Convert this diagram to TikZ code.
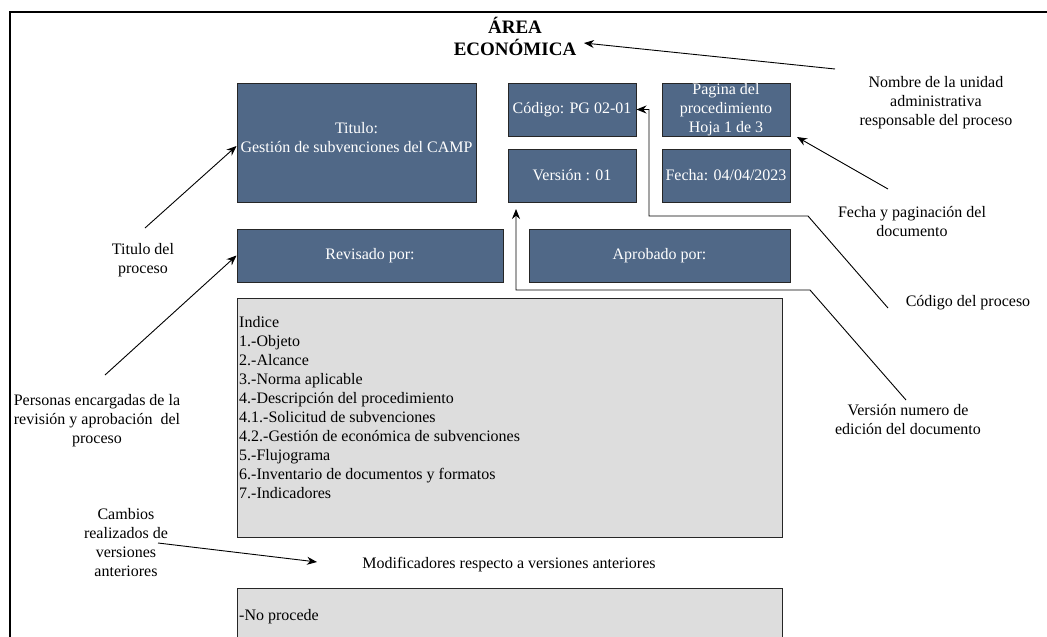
\documentclass[tikz,border=0pt]{standalone}
\usepackage{fontspec}
\setmainfont{Liberation Serif}
\usetikzlibrary{arrows.meta}
\definecolor{boxblue}{RGB}{80,104,135}
\definecolor{boxgrey}{RGB}{221,221,221}
\begin{document}
\begin{tikzpicture}[x=1pt,y=-1pt,
  txt/.style={font=\fontsize{16}{19}\selectfont, inner sep=0pt, align=center},
  bluebox/.style={draw=black!85, line width=1pt, fill=boxblue, text=white, font=\fontsize{16}{19}\selectfont, align=center, inner sep=0pt},
  greybox/.style={draw=black!85, line width=1pt, fill=boxgrey, inner sep=0pt},
  conn/.style={line width=0.9pt, -{Stealth[length=10pt,width=8pt]}},
  idx/.style={font=\fontsize{16}{19}\selectfont, inner sep=0pt, anchor=base west}]
\useasboundingbox (0,0) rectangle (1047,637);
\clip (0,0) rectangle (1047,637);
% frame
\draw[line width=1.5pt] (10,660) -- (10,12) -- (1070,12);
% title
\node[txt, font=\fontsize{19}{22}\selectfont\bfseries] (area) at (515,36) {ÁREA\\ECONÓMICA};
% boxes
\node[bluebox, minimum width=239, minimum height=119] (tbox) at (356.5,142.5) {};
\node[txt, text=white] (ttext) at (356.5,138) {Titulo:\\Gestión de subvenciones del CAMP};
\node[bluebox, minimum width=128, minimum height=53] (cod) at (572,109.5) {Código: PG 02-01};
\node[bluebox, minimum width=128, minimum height=53] (pag) at (726,109.5) {Pagina del\\procedimiento\\Hoja 1 de 3};
\node[bluebox, minimum width=128, minimum height=53] (ver) at (572,175.5) {Versión : 01};
\node[bluebox, minimum width=128, minimum height=53] (fec) at (726,175.5) {Fecha: 04/04/2023};
\node[bluebox, minimum width=266, minimum height=53] (rev) at (370,255.5) {Revisado por:};
\node[bluebox, minimum width=261, minimum height=53] (apr) at (659.5,255.5) {Aprobado por:};
\node[greybox, minimum width=545, minimum height=239] (index) at (509.5,417.5) {};
\foreach \t [count=\i from 0] in {Indice,1.-Objeto,2.-Alcance,3.-Norma aplicable,4.-Descripción del procedimiento,4.1.-Solicitud de subvenciones,4.2.-Gestión de económica de subvenciones,5.-Flujograma,6.-Inventario de documentos y formatos,7.-Indicadores}
  \node[idx] (idx\i) at (239,{327+19*\i}) {\t};
\node[txt] (mod) at (509,565) {Modificadores respecto a versiones anteriores};
\node[greybox, minimum width=545, minimum height=80, anchor=north] (noproc) at (509.5,588) {};
\node[idx] (np) at (239,620) {-No procede};
% labels
\node[txt] (lnom) at (936,103) {Nombre de la unidad\\administrativa\\responsable del proceso};
\node[txt] (lfec) at (912,222) {Fecha y paginación del\\documento};
\node[txt] (lcod) at (968,303) {Código del proceso};
\node[txt] (lver) at (908,420) {Versión numero de\\edición del documento};
\node[txt] (ltit) at (143,260) {Titulo del\\proceso};
\node[txt] (lper) at (97,421) {Personas encargadas de la\\revisión y aprobación\ \ del\\proceso};
\node[txt] (lcam) at (126,543) {Cambios\\realizados de\\versiones\\anteriores};
% connector end points
\coordinate (nomtail) at (835,69);
\coordinate (nomhead) at (584,43);
\coordinate (pagtail) at (888,189);
\coordinate (paghead) at (797,137);
\coordinate (codtail) at (888,308);
\coordinate (vertail) at (906,400);
\coordinate (verhead) at (516,209);
\coordinate (tittail) at (145,228);
\coordinate (perstail) at (105,375);
\coordinate (camtail) at (158,543);
\coordinate (camhead) at (317,562);
% connectors
\draw[conn] (nomtail) -- (nomhead);
\draw[conn] (pagtail) -- (paghead);
\draw[conn] (codtail) -- (808,216) -- (649,216) |- (cod.east);
\draw[conn] (vertail) -- (810,290) -- (516,290) -- (verhead);
\draw[conn] (tittail) -- (tbox.west |- 0,146);
\draw[conn] (perstail) -- (rev.west);
\draw[conn] (camtail) -- (camhead);
\end{tikzpicture}
\end{document}
